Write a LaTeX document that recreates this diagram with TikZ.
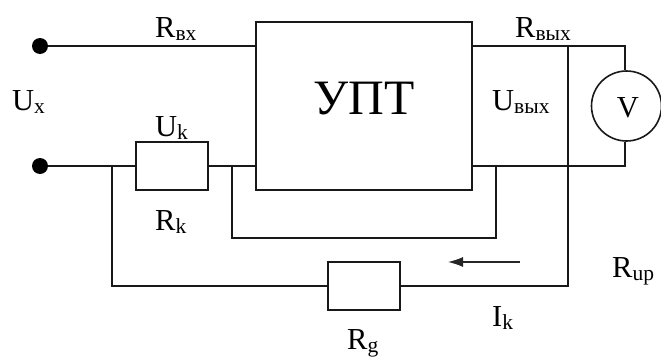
\documentclass[tikz,border=0pt]{standalone}
\usepackage{fontspec}
\setmainfont{Liberation Serif}
\usetikzlibrary{arrows.meta}
\newcommand{\lbl}[2]{#1{\fontsize{21.5}{21.5}\selectfont\raisebox{-3.2pt}{#2}}}
\tikzset{
  wire/.style={draw=black!90,line width=1.6pt},
  boxnode/.style={draw=black!90,line width=1.6pt,inner sep=0pt,minimum width=72pt,minimum height=48pt},
  term/.style={circle,fill=black,inner sep=0pt,minimum size=16pt},
  txt/.style={anchor=base west,inner sep=0pt,font=\fontsize{30.5}{30.5}\selectfont}
}
\begin{document}
\begin{tikzpicture}[x=1pt,y=-1pt]
\useasboundingbox (0,0) rectangle (661,356);
\node[draw=black!90,line width=1.6pt,inner sep=0pt,minimum width=216pt,minimum height=168pt] (upt) at (364,106) {};
\node[anchor=base,inner sep=0pt,font=\fontsize{49.5}{49.5}\selectfont] (upttext) at (364,114) {УПТ};
\node[term] (t1) at (40,46) {};
\node[term] (t2) at (40,166) {};
\node[boxnode] (rk) at (172,166) {};
\node[boxnode] (rg) at (364,286) {};
\node[circle,draw=black!90,line width=1.6pt,inner sep=0pt,minimum size=70pt] (v) at (626.5,106) {};
\node[anchor=base,inner sep=0pt,font=\fontsize{30.5}{30.5}\selectfont] (vt) at (628,117) {V};
\coordinate (a1) at (256,46);
\coordinate (a2) at (256,166);
\coordinate (o1) at (472,46);
\coordinate (o2) at (472,166);
\coordinate (j1) at (112,166);
\coordinate (j2) at (232,166);
\coordinate (j3) at (496,166);
\coordinate (j4) at (568,46);
\coordinate (c1) at (625,46);
\coordinate (c2) at (625,166);
\coordinate (b1) at (112,286);
\coordinate (b2) at (568,286);
\coordinate (d1) at (232,238);
\coordinate (d2) at (496,238);
\coordinate (ar1) at (520,262);
\coordinate (ar2) at (448,262);
\draw[wire] (t1) -- (a1);
\draw[wire] (t2) -- (rk.west);
\draw[wire] (rk.east) -- (a2);
\draw[wire] (j1) -- (b1) -- (rg.west);
\draw[wire] (rg.east) -- (b2) -- (j4);
\draw[wire] (j2) -- (d1) -- (d2) -- (j3);
\draw[wire] (o1) -- (c1) -- (c1 |- v.north);
\draw[wire] (o2) -- (c2) -- (c2 |- v.south);
\draw[line width=1.2pt,draw=black!85,-{Latex[length=15pt,width=10pt]}] (ar1) -- (ar2);
\node[txt] (l1) at (155,37.5) {\lbl{R}{вх}};
\node[txt] (l2) at (12,110) {\lbl{U}{x}};
\node[txt] (l3) at (155,136) {\lbl{U}{k}};
\node[txt] (l4) at (155,230.5) {\lbl{R}{k}};
\node[txt] (l5) at (515,37.5) {\lbl{R}{вых}};
\node[txt] (l6) at (492,110) {\lbl{U}{вых}};
\node[txt] (l7) at (612,277.5) {\lbl{R}{up}};
\node[txt] (l8) at (492,326) {\lbl{I}{k}};
\node[txt] (l9) at (347,349.5) {\lbl{R}{g}};
\end{tikzpicture}
\end{document}
